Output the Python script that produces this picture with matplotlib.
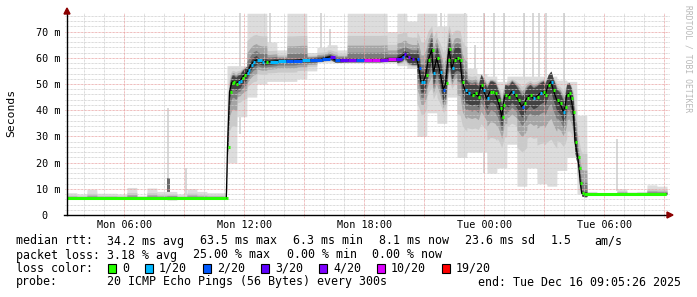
import numpy as np
import matplotlib.pyplot as plt
from matplotlib.patches import Rectangle, Polygon
from matplotlib.transforms import IdentityTransform

W, H = 697, 297

# time axis: hours since Mon 00:00
t_start = 3.135
t_end = 33.135
bin_width = 0.5

# median rtt (ms) and lost pings (of 20)
med_t = [3.135, 11.1, 11.16, 11.26, 11.37, 11.45, 11.57, 11.70, 11.785, 11.87, 12.0,
         12.12, 12.2, 12.335, 12.45, 12.62, 12.87, 13.085, 13.285, 13.7, 14.085,
         14.45, 14.87, 15.285, 15.87, 16.285, 16.535, 16.785, 17.185, 17.585, 17.985,
         18.385, 18.785, 19.185, 19.585, 19.87, 20.0, 20.2, 20.385, 20.62, 20.735,
         20.835, 20.95, 21.07, 21.2, 21.37, 21.45, 21.62, 21.785, 21.95, 22.07,
         22.17, 22.235, 22.37, 22.5, 22.62, 22.785, 22.9, 23.035, 23.2, 23.37,
         23.535, 23.7, 23.835, 23.95, 24.12, 24.285, 24.4, 24.535, 24.67, 24.785,
         24.87, 24.95, 25.035, 25.2, 25.37, 25.535, 25.7, 25.87, 26.0, 26.12,
         26.285, 26.45, 26.62, 26.785, 26.95, 27.035, 27.2, 27.335, 27.45, 27.62,
         27.785, 27.95, 28.035, 28.12, 28.235, 28.335, 28.45, 28.535, 28.67, 28.735,
         28.8, 28.87, 28.985, 33.1]
med_v = [6.4, 6.4, 25.8, 47.0, 50.5, 50.9, 50.0, 50.9, 51.1, 52.2, 53.4,
         54.1, 55.3, 57.3, 58.5, 59.2, 58.5, 58.5, 58.5, 58.9, 58.9,
         58.9, 59.2, 59.2, 59.5, 60.4, 59.2, 59.2, 59.3, 59.3, 59.3,
         59.3, 59.3, 59.5, 59.5, 60.4, 61.4, 60.2, 59.6, 59.6, 56.0,
         50.9, 50.9, 53.4, 59.2, 63.0, 54.1, 59.8, 54.7, 47.7, 50.3,
         59.2, 63.4, 56.0, 59.2, 59.8, 59.2, 50.9, 47.7, 46.4, 45.8,
         46.4, 45.2, 49.6, 47.7, 44.5, 47.1, 47.1, 46.4, 43.9, 40.7,
         37.5, 42.0, 45.8, 45.2, 47.1, 45.8, 43.9, 41.3, 42.6, 44.5,
         45.8, 44.5, 45.2, 46.4, 47.1, 45.8, 49.6, 50.9, 47.7, 43.9,
         42.6, 39.4, 41.3, 45.8, 46.4, 44.5, 39.4, 28.0, 22.2, 17.8,
         12.1, 8.3, 8.0, 8.1]
med_loss = [0, 0, 0, 0, 0, 0, 0, 1, 1, 0, 0,
            1, 1, 1, 1, 1, 1, 0, 1, 1, 2,
            2, 1, 2, 2, 3, 2, 3, 4, 2, 10,
            10, 4, 10, 3, 2, 3, 4, 3, 2, 2,
            1, 1, 0, 0, 0, 1, 0, 1, 2, 0,
            0, 0, 1, 0, 0, 0, 0, 1, 1, 0,
            0, 0, 0, 1, 1, 0, 0, 0, 0, 0,
            0, 0, 0, 0, 1, 0, 0, 2, 0, 0,
            0, 1, 0, 1, 0, 0, 0, 1, 0, 0,
            0, 1, 0, 0, 0, 0, 0, 0, 0, 0,
            0, 0, 0, 0]

# smoke per half hour bin: outer extent and dark core half width (ms)
smoke_hi = [8.5, 8.0, 9.8, 8.3, 8.3, 8.0, 10.5, 7.5, 10.3, 9.0,
            9.0, 8.0, 10.0, 9.0, 8.5, 8.5, 57, 57, 77, 77,
            66, 63, 77, 77, 62, 64, 65, 63, 77, 77,
            77, 77, 70, 77, 74, 77, 77, 72, 77, 77,
            56, 54, 53, 51, 53, 53, 53, 53, 53, 51.5,
            51, 38, 9.0, 8.6, 8.5, 10, 8.8, 9.0, 11.5, 11]
smoke_lo = [6.3, 6.3, 6.3, 6.3, 6.3, 6.3, 6.3, 6.3, 6.3, 6.3,
            6.3, 6.3, 6.3, 6.3, 6.3, 6.3, 20, 37.5, 45, 50,
            51, 51, 51, 52, 55, 58.3, 58.3, 58.3, 58.3, 58.3,
            58.3, 58.3, 58.3, 57, 56, 30, 39, 35, 45, 22,
            24, 24, 16, 18, 27, 11, 18, 12, 11, 17,
            22, 8, 7.9, 7.9, 7.9, 7.9, 7.9, 7.9, 7.9, 7.9]
smoke_core = [0.3, 0.3, 0.3, 0.3, 0.3, 0.3, 0.3, 0.3, 0.3, 0.3,
              0.5, 0.3, 0.3, 0.3, 0.3, 0.3, 2.5, 2.5, 1.8, 1.2,
              1, 0.8, 0.8, 0.8, 0.8, 0.8, 0.8, 0.8, 0.8, 0.8,
              0.8, 0.8, 0.8, 1.5, 2, 4, 4.5, 4.5, 4.5, 4.5,
              4, 4, 4, 4, 4, 4, 4, 4, 4, 4,
              4, 1, 0.3, 0.3, 0.3, 0.3, 0.3, 0.3, 0.3, 0.3]

# single outlier streaks
spike_t = [8.185, 9.085, 11.785, 13.285, 15.835, 16.285, 21.835, 23.035, 23.535,
           23.985, 24.485, 24.985, 25.985, 26.435, 26.735, 27.085, 27.985, 30.635]
spike_lo = [7, 7, 31, 60, 60, 60, 45, 48, 48, 16, 48, 45, 48, 48, 48, 48, 48, 9]
spike_hi = [41, 18, 77, 77, 77, 71, 77, 77, 65, 77, 77, 77, 77, 77, 77, 77, 77, 29]
dark_t = [8.185]
dark_lo = [7]
dark_hi = [14]

loss_steps = [0, 1, 2, 3, 4, 10, 19]
loss_labels = ['0', '1/20', '2/20', '3/20', '4/20', '10/20', '19/20']
loss_colors = ['#26ff00', '#00b8ff', '#0059ff', '#5e00ff', '#7e00ff', '#dd00ff', '#ff0000']

ytick_vals = [0, 10, 20, 30, 40, 50, 60, 70]
ytick_text = ['0  ', '10 m', '20 m', '30 m', '40 m', '50 m', '60 m', '70 m']
xtick_vals = [6, 12, 18, 24, 30]
xtick_text = ['Mon 06:00', 'Mon 12:00', 'Mon 18:00', 'Tue 00:00', 'Tue 06:00']

mono = 'DejaVu Sans Mono'
ymax = 77.1

fig = plt.figure(figsize=(W / 100, H / 100), dpi=100)
fig.patch.set_facecolor('white')
ax = fig.add_axes([67 / W, (H - 215) / H, 600 / W, 202 / H])
ax.set_xlim(t_start, t_end)
ax.set_ylim(0, ymax)
for s in ax.spines.values():
    s.set_visible(False)

# smoke
tf = np.linspace(t_start, t_end, 2401)
mf = np.interp(tf, med_t, med_v)
idx = np.clip(((tf - t_start) / bin_width).astype(int), 0, len(smoke_hi) - 1)
core = np.array(smoke_core)[idx]
c_lo = mf - core
c_hi = mf + core
o_lo = np.minimum(np.array(smoke_lo)[idx], c_lo)
o_hi = np.maximum(np.array(smoke_hi)[idx], c_hi)

ax.bar(spike_t, np.array(spike_hi) - np.array(spike_lo), bottom=spike_lo,
       width=0.1, color='#d8d8d8', zorder=2, linewidth=0)
ax.bar(dark_t, np.array(dark_hi) - np.array(dark_lo), bottom=dark_lo,
       width=0.15, color='#6a6a6a', zorder=2.5, linewidth=0)

shades = [(1.0, '#dddddd'), (0.5, '#cacaca'), (0.28, '#a4a4a4'),
          (0.12, '#7a7a7a'), (0.0, '#424242')]
for f, col in shades:
    lo = c_lo - f * (c_lo - o_lo)
    hi = c_hi + f * (o_hi - c_hi)
    ax.fill_between(tf, lo, hi, color=col, linewidth=0, zorder=3)

# grid, drawn over the smoke like rrdtool does
dots = (0, (0.72, 0.72))
ext_x = 2 / 600
ext_y = 2 / 202
for v in np.arange(2, 77, 2):
    major = v % 10 == 0
    ax.axhline(v, -ext_x, 1 + ext_x, color='#e8a0a0' if major else '#cccccc',
               lw=0.7, ls=dots, zorder=4, clip_on=False)
for h in range(4, 34):
    major = h % 3 == 0
    ax.axvline(h, -ext_y, 1, color='#e8a0a0' if major else '#cccccc',
               lw=0.7, ls=dots, zorder=4, clip_on=False)

# median line with loss colour
ax.plot(med_t, med_v, color='#000000', lw=0.9, zorder=6)
n = len(med_t)
for i in range(n):
    t0 = med_t[i]
    t1 = med_t[i + 1] if i + 1 < n else t_end
    if t1 - t0 < 0.25:
        t1 = t0 + 0.1
    c = loss_colors[loss_steps.index(med_loss[i])]
    ax.hlines(med_v[i], t0, t1, color=c, lw=2.2, zorder=7, capstyle='butt')

# axes lines and arrows
ax.plot([t_start - 0.15, t_end + 0.1], [0, 0], color='black', lw=1, zorder=8, clip_on=False)
ax.plot([t_start, t_start], [-0.1, ymax + 0.8], color='black', lw=1, zorder=8, clip_on=False)
ident = IdentityTransform()
fig.patches.append(Polygon([[667, H - 212], [673, H - 215], [667, H - 218]],
                           closed=True, color='#8b0000', transform=ident))
fig.patches.append(Polygon([[64, H - 14], [67, H - 8], [70, H - 14]],
                           closed=True, color='#8b0000', transform=ident))

ax.set_yticks(ytick_vals)
ax.set_yticklabels(ytick_text, family=mono, fontsize=7.3)
ax.set_xticks(xtick_vals)
ax.set_xticklabels(xtick_text, family=mono, fontsize=7.3)
ax.tick_params(axis='y', length=0, pad=4.5)
ax.tick_params(axis='x', length=0, pad=3.5)

fig.text(11 / W, 1 - 113 / H, 'Seconds', rotation=90, family=mono, fontsize=8.2,
         ha='center', va='center')
fig.text(688 / W, 1 - 5 / H, 'RRDTOOL / TOBI OETIKER', rotation=270, family=mono,
         fontsize=5.8, color='#b8b8b8', ha='center', va='top')


def put(x, y, s):
    fig.text(x / W, 1 - y / H, s, family=mono, fontsize=8.35, ha='left', va='center')


row1 = [(16, 'median rtt:'), (107, '34.2 ms avg'), (200, '63.5 ms max'),
        (293, '6.3 ms min'), (379, '8.1 ms now'), (465, '23.6 ms sd'),
        (551, '1.5'), (594, 'am/s')]
row2 = [(16, 'packet loss:'), (107, '3.18 % avg'), (193, '25.00 % max'),
        (287, '0.00 % min'), (372, '0.00 % now')]
for x, s in row1:
    put(x, 241, s)
for x, s in row2:
    put(x, 255, s)

put(16, 268, 'loss color:')
box_x = [108, 145, 203, 261, 319, 377, 442]
for bx, lab, col in zip(box_x, loss_labels, loss_colors):
    fig.patches.append(Rectangle((bx, H - 273), 8, 9, facecolor=col,
                                 edgecolor='black', lw=0.8, transform=ident))
    put(bx + 14, 268, lab)

put(16, 282, 'probe:')
put(107, 282, '20 ICMP Echo Pings (56 Bytes) every 300s')
put(478, 282, 'end: Tue Dec 16 09:05:26 2025')

fig.savefig('out.png', dpi=100)
